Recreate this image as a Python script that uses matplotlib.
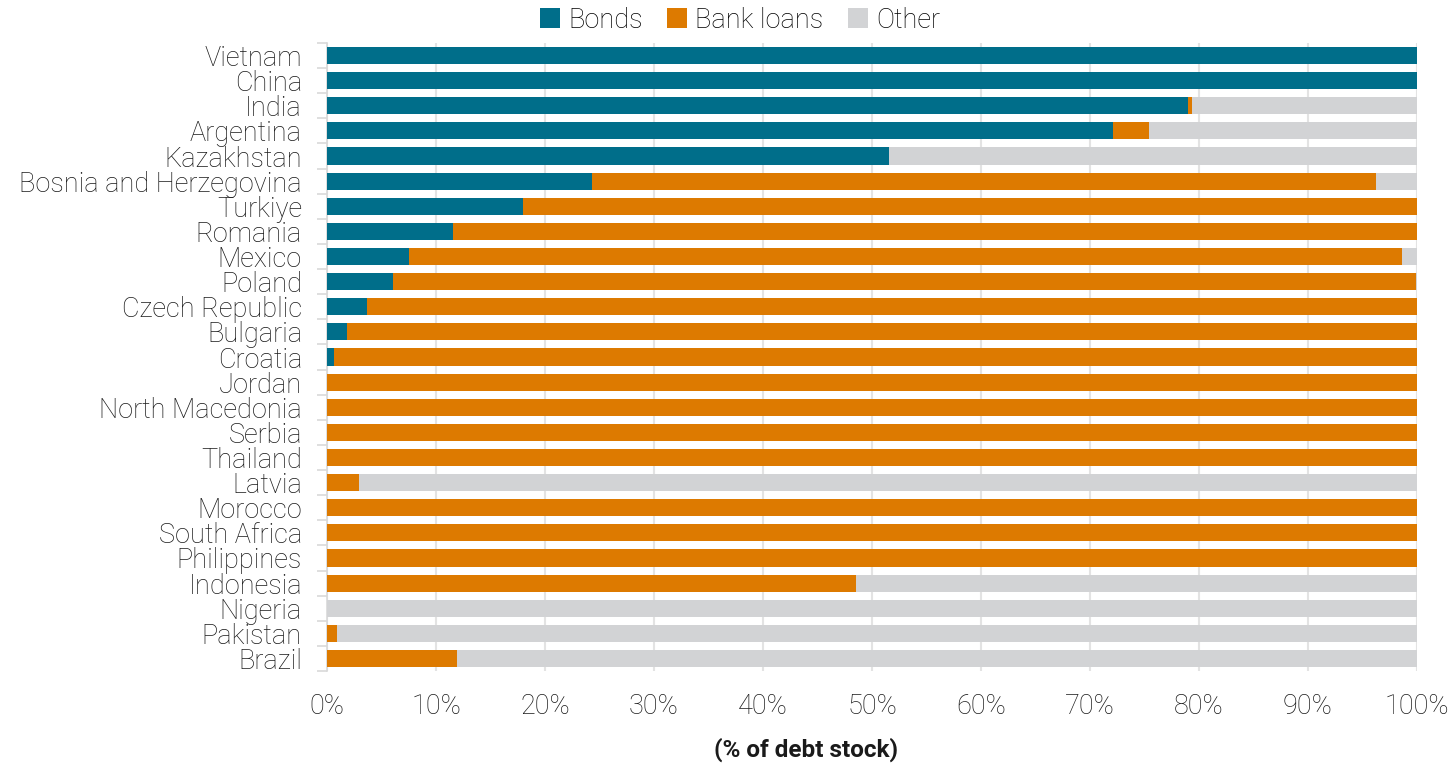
import numpy as np
import matplotlib.pyplot as plt

plt.rcParams['font.family'] = ['Roboto', 'DejaVu Sans']

countries = ['Vietnam', 'China', 'India', 'Argentina', 'Kazakhstan',
             'Bosnia and Herzegovina', 'Turkiye', 'Romania', 'Mexico', 'Poland',
             'Czech Republic', 'Bulgaria', 'Croatia', 'Jordan', 'North Macedonia',
             'Serbia', 'Thailand', 'Latvia', 'Morocco', 'South Africa',
             'Philippines', 'Indonesia', 'Nigeria', 'Pakistan', 'Brazil']
# shares of debt stock, %
bonds = [100, 100, 79.0, 72.1, 51.6, 24.3, 18.0, 11.6, 7.5, 6.1,
         3.7, 1.8, 0.6, 0, 0, 0, 0, 0, 0, 0, 0, 0, 0, 0, 0]
bank_loans = [0, 0, 0.4, 3.3, 0, 71.9, 82.0, 88.4, 91.1, 93.8,
              96.3, 98.2, 99.4, 100, 100, 100, 100, 2.9, 100, 100,
              100, 48.5, 0, 0.9, 11.9]
other = [100 - b - l for b, l in zip(bonds, bank_loans)]

c_bonds = '#006e8a'
c_bank = '#dd7a00'
c_other = '#d2d3d5'
txt = '#1a1a1a'
fs = 19.5

fig = plt.figure(figsize=(14.52, 7.64), dpi=100)
ax = fig.add_axes([327 / 1452, 1 - 671 / 764, 1090 / 1452, 628 / 764])

y = np.arange(len(countries))
h = 0.68
ax.barh(y, bonds, h, color=c_bonds, label='Bonds', zorder=3)
ax.barh(y, bank_loans, h, left=bonds, color=c_bank, label='Bank loans', zorder=3)
ax.barh(y, other, h, left=np.add(bonds, bank_loans), color=c_other,
        label='Other', zorder=3)

ax.set_ylim(len(countries) - 0.5, -0.5)
ax.set_xlim(0, 100)
ax.set_yticks(y)
ax.set_yticklabels(countries, fontsize=fs, color=txt, fontweight='light')
ax.set_yticks(np.arange(len(countries) + 1) - 0.5, minor=True)
ax.tick_params(axis='y', which='major', length=0, pad=18)
ax.tick_params(axis='y', which='minor', length=7, color='#d9d9d9', width=1.2)

ax.set_xticks(np.arange(0, 101, 10))
ax.set_xticklabels([f'{v}%' for v in range(0, 101, 10)], fontsize=fs,
                   color=txt, fontweight='light')
ax.tick_params(axis='x', length=0, pad=16)
ax.grid(axis='x', color='#e3e3e3', linewidth=1.5, zorder=0)

for side in ['top', 'right', 'bottom']:
    ax.spines[side].set_visible(False)
ax.spines['left'].set_color('#d9d9d9')
ax.spines['left'].set_linewidth(1.2)

fig.text(806 / 1452, 1 - 750 / 764, '(% of debt stock)', fontsize=17.5,
         fontweight='bold', color=txt, ha='center', va='center')

fig.legend(loc='center', bbox_to_anchor=(740 / 1452, 1 - 20 / 764), ncol=3,
           frameon=False, handlelength=0.75, handleheight=0.75,
           handletextpad=0.3, columnspacing=0.9, prop={'size': fs, 'weight': 'light'})

fig.savefig('out.png', dpi=100)
